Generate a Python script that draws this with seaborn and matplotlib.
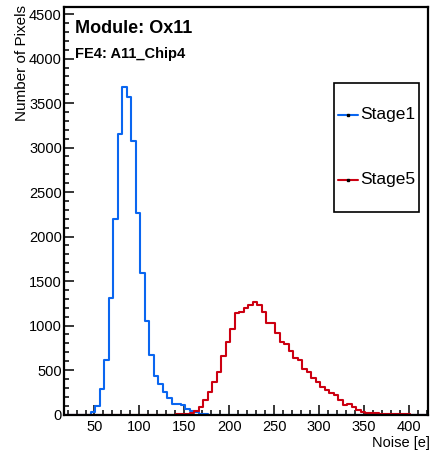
import numpy as np
import pandas as pd
import matplotlib
matplotlib.use('Agg')
import matplotlib.pyplot as plt
from matplotlib.lines import Line2D
from matplotlib.ticker import MultipleLocator
import seaborn as sns

# noise histogram, 5 e bins from 16 to 421
bin_edges = [float(e) for e in np.arange(16, 422, 5)]
bin_centers = [e + 2.5 for e in bin_edges[:-1]]

stage1_counts = [
    0, 0, 0, 0, 0, 0, 25, 100, 285, 607,
    1315, 2200, 3155, 3680, 3570, 3070, 2260, 1590, 1056, 665,
    435, 345, 255, 190, 122, 118, 110, 65, 40, 25,
    10, 4, 0, 0, 0, 0, 0, 0, 0, 0,
    0, 0, 0, 0, 0, 0, 0, 0, 0, 0,
    0, 0, 0, 0, 0, 0, 0, 0, 0, 0,
    0, 0, 0, 0, 0, 0, 0, 0, 0, 0,
    0, 0, 0, 0, 0, 0, 0, 0, 0, 0,
    0,
]
stage5_counts = [
    0, 0, 0, 0, 0, 0, 0, 0, 0, 0,
    0, 0, 0, 0, 0, 0, 0, 0, 0, 0,
    0, 0, 0, 0, 0, 2, 5, 8, 12, 40,
    82, 163, 256, 369, 481, 661, 819, 958, 1145, 1156,
    1194, 1231, 1268, 1231, 1156, 1026, 1032, 912, 819, 792,
    715, 630, 612, 508, 481, 407, 369, 312, 275, 238,
    219, 163, 107, 118, 88, 51, 32, 20, 13, 13,
    10, 6, 6, 4, 3, 2, 1, 0, 0, 0,
    0,
]
stage_names = ['Stage1', 'Stage5']
stage_colors = ['#0a66f0', '#cc0011']

sns.set_style('ticks')
plt.rcParams['font.family'] = ['Liberation Sans', 'DejaVu Sans']
plt.rcParams['text.color'] = 'black'
plt.rcParams['axes.labelcolor'] = 'black'
plt.rcParams['xtick.color'] = 'black'
plt.rcParams['ytick.color'] = 'black'

fig = plt.figure(figsize=(4.32, 4.55), dpi=100)
ax = fig.add_axes([0.148, 0.089, 0.8426, 0.8956])

for name, counts, col in zip(stage_names, [stage1_counts, stage5_counts], stage_colors):
    df = pd.DataFrame({'noise': bin_centers, 'count': counts})
    sns.histplot(data=df, x='noise', weights='count', bins=bin_edges,
                 element='step', fill=False, color=col, linewidth=1.5, ax=ax)

ax.set_xlim(16, 421)
ax.set_ylim(0, 4580)
ax.xaxis.set_major_locator(MultipleLocator(50))
ax.xaxis.set_minor_locator(MultipleLocator(10))
ax.yaxis.set_major_locator(MultipleLocator(500))
ax.yaxis.set_minor_locator(MultipleLocator(100))
ax.tick_params(which='both', direction='in', top=False, right=False, width=1.1,
               labelsize=10.5, color='black', labelcolor='black')
ax.tick_params(which='major', length=7)
ax.tick_params(which='minor', length=3.6)
ax.tick_params(axis='y', pad=1.5)
ax.tick_params(axis='x', pad=4)
for sp in ax.spines.values():
    sp.set_visible(True)
    sp.set_linewidth(1.6)
    sp.set_color('black')

ax.set_xlabel('Noise [e]', fontsize=10.5, loc='right')
ax.xaxis.set_label_coords(1.005, -0.053)
ax.set_ylabel('Number of Pixels', fontsize=11, loc='top')
ax.yaxis.set_label_coords(-0.095, 1.005)

ax.text(0.03, 0.936, 'Module: Ox11', transform=ax.transAxes, fontsize=13,
        fontweight='bold', va='baseline', ha='left')
ax.text(0.03, 0.875, 'FE4: A11_Chip4', transform=ax.transAxes, fontsize=10.5,
        fontweight='bold', va='baseline', ha='left')

handles = [Line2D([], [], color=c, lw=1.5, marker='s', markersize=1.5,
                  markerfacecolor='black', markeredgecolor='black')
           for c in stage_colors]
leg = ax.legend(handles, stage_names, loc='upper left', bbox_to_anchor=(0.742, 0.8135),
                borderaxespad=0, fontsize=12.5, frameon=True, fancybox=False,
                edgecolor='black', framealpha=1, borderpad=0.23, handleheight=4.57,
                labelspacing=0.52, handlelength=1.15, handletextpad=0.12)
leg.get_frame().set_linewidth(1.2)
# tall rows put the handle above the text, move it down to the text line
for ln in leg.get_lines():
    ln.set_ydata(np.asarray(ln.get_ydata()) - 8.6)

fig.savefig('out.png', dpi=100)
